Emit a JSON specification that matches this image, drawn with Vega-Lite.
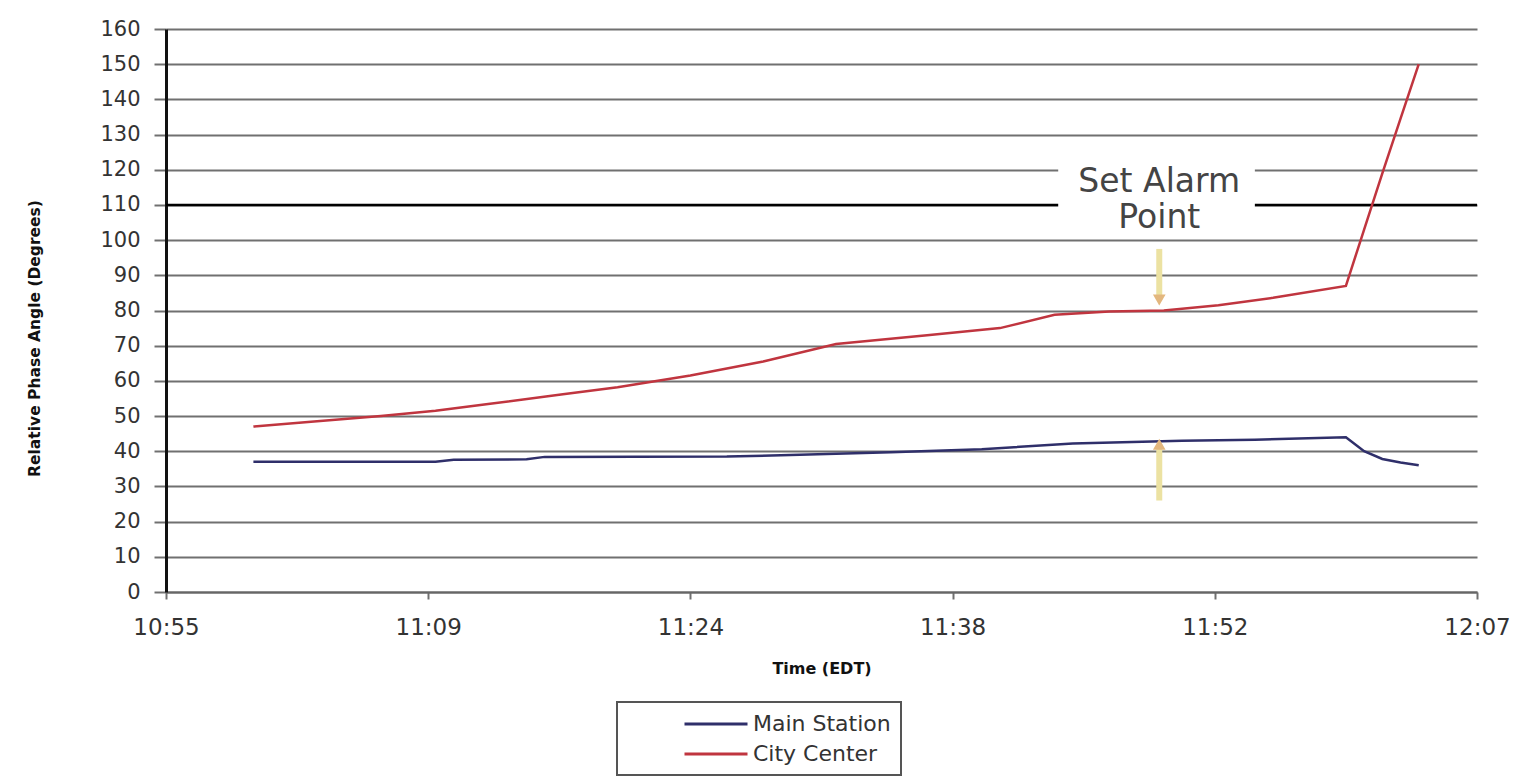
{
  "$schema": "https://vega.github.io/schema/vega-lite/v6.json",
  "width": 1311,
  "height": 563,
  "autosize": {"type": "none"},
  "padding": {"left": 166, "top": 29, "right": 56, "bottom": 184},
  "background": "white",
  "config": {
    "view": {"stroke": null},
    "font": "DejaVu Sans",
    "text": {"lineBreak": "\n"},
    "axis": {
      "labelFont": "DejaVu Sans",
      "labelColor": "#333333",
      "titleFont": "DejaVu Sans",
      "titleFontWeight": "bold",
      "titleColor": "#111111"
    },
    "axisY": {
      "grid": true,
      "gridColor": "#707070",
      "gridWidth": 2,
      "domainColor": "#111111",
      "domainWidth": 3,
      "tickColor": "#707070",
      "tickSize": 12,
      "tickWidth": 2,
      "tickCount": 20,
      "labelFontSize": 21,
      "labelPadding": 14,
      "labelOverlap": false,
      "titleFontSize": 15.5,
      "titleX": -124,
      "titleY": 309
    },
    "axisX": {
      "grid": false,
      "domainColor": "#666666",
      "domainWidth": 2,
      "tickColor": "#707070",
      "tickSize": 7,
      "tickWidth": 2,
      "labelFontSize": 23,
      "labelPadding": 17,
      "labelFlush": false,
      "labelOverlap": false,
      "titleFontSize": 16,
      "titlePadding": 21
    },
    "legend": {
      "orient": "none",
      "legendX": 451,
      "legendY": 673,
      "symbolType": "M-3,0H3",
      "symbolSize": 441,
      "symbolStrokeWidth": 3,
      "labelFontSize": 22,
      "labelColor": "#333333",
      "strokeColor": "#555555",
      "strokeWidth": 2,
      "fillColor": "white",
      "padding": 10,
      "rowPadding": 7,
      "symbolOffset": 77,
      "labelOffset": 25
    }
  },
  "layer": [
    {
      "description": "alarm threshold line at 110 degrees",
      "data": {"values": [{"alarm": 110}]},
      "mark": {"type": "rule", "color": "#000000", "strokeWidth": 2.5},
      "encoding": {
        "y": {
          "field": "alarm", "type": "quantitative", "title": "Relative Phase Angle (Degrees)",
          "scale": {"domain": [0, 160], "nice": false},
          "axis": {"values": [0, 10, 20, 30, 40, 50, 60, 70, 80, 90, 100, 110, 120, 130, 140, 150, 160]}
        }
      }
    },
    {
      "description": "white box behind the alarm note",
      "data": {
        "values": [{"start": "11:44:12", "end": "11:55:00", "low": 101.5, "high": 123}],
        "format": {"parse": {"start": "date:'%H:%M:%S'", "end": "date:'%H:%M:%S'"}}
      },
      "mark": {"type": "rect", "fill": "white"},
      "encoding": {
        "x": {"field": "start", "type": "temporal", "title": "Time (EDT)",
              "scale": {"domain": [{"year": 1900, "month": 1, "date": 1, "hours": 10, "minutes": 55, "seconds": 12}, {"year": 1900, "month": 1, "date": 1, "hours": 12, "minutes": 7, "seconds": 12}]}},
        "x2": {"field": "end"},
        "y": {"field": "low", "type": "quantitative", "title": "Relative Phase Angle (Degrees)", "scale": {"domain": [0, 160], "nice": false}},
        "y2": {"field": "high"}
      }
    },
    {
      "description": "alarm note text",
      "data": {
        "values": [{"time": "11:49:45", "level": 116.5, "note": "Set Alarm\nPoint"}],
        "format": {"parse": {"time": "date:'%H:%M:%S'"}}
      },
      "mark": {"type": "text", "fontSize": 33, "color": "#444444", "lineHeight": 36, "align": "center", "baseline": "middle"},
      "encoding": {
        "x": {"field": "time", "type": "temporal", "title": "Time (EDT)",
              "scale": {"domain": [{"year": 1900, "month": 1, "date": 1, "hours": 10, "minutes": 55, "seconds": 12}, {"year": 1900, "month": 1, "date": 1, "hours": 12, "minutes": 7, "seconds": 12}]}},
        "y": {"field": "level", "type": "quantitative", "title": "Relative Phase Angle (Degrees)", "scale": {"domain": [0, 160], "nice": false}},
        "text": {"field": "note"}
      }
    },
    {
      "description": "phase angle series",
      "data": {
        "values": [
          {"series": "Main Station", "time": "11:00", "angle": 37},
          {"series": "Main Station", "time": "11:10", "angle": 37},
          {"series": "Main Station", "time": "11:11", "angle": 37.6},
          {"series": "Main Station", "time": "11:15", "angle": 37.7},
          {"series": "Main Station", "time": "11:16", "angle": 38.4},
          {"series": "Main Station", "time": "11:26", "angle": 38.5},
          {"series": "Main Station", "time": "11:30", "angle": 39},
          {"series": "Main Station", "time": "11:35", "angle": 39.7},
          {"series": "Main Station", "time": "11:40", "angle": 40.6},
          {"series": "Main Station", "time": "11:45", "angle": 42.2},
          {"series": "Main Station", "time": "11:51", "angle": 43},
          {"series": "Main Station", "time": "11:55", "angle": 43.3},
          {"series": "Main Station", "time": "12:00", "angle": 44},
          {"series": "Main Station", "time": "12:01", "angle": 40},
          {"series": "Main Station", "time": "12:02", "angle": 37.8},
          {"series": "Main Station", "time": "12:03", "angle": 36.8},
          {"series": "Main Station", "time": "12:04", "angle": 36},
          {"series": "City Center", "time": "11:00", "angle": 47},
          {"series": "City Center", "time": "11:03", "angle": 48.3},
          {"series": "City Center", "time": "11:07", "angle": 50},
          {"series": "City Center", "time": "11:10", "angle": 51.5},
          {"series": "City Center", "time": "11:13", "angle": 53.5},
          {"series": "City Center", "time": "11:17", "angle": 56.2},
          {"series": "City Center", "time": "11:20", "angle": 58.2},
          {"series": "City Center", "time": "11:24", "angle": 61.5},
          {"series": "City Center", "time": "11:28", "angle": 65.5},
          {"series": "City Center", "time": "11:32", "angle": 70.5},
          {"series": "City Center", "time": "11:37", "angle": 73},
          {"series": "City Center", "time": "11:41", "angle": 75},
          {"series": "City Center", "time": "11:44", "angle": 78.8},
          {"series": "City Center", "time": "11:47", "angle": 79.7},
          {"series": "City Center", "time": "11:50", "angle": 80},
          {"series": "City Center", "time": "11:53", "angle": 81.5},
          {"series": "City Center", "time": "11:56", "angle": 83.6},
          {"series": "City Center", "time": "12:00", "angle": 87},
          {"series": "City Center", "time": "12:01", "angle": 103},
          {"series": "City Center", "time": "12:02", "angle": 119},
          {"series": "City Center", "time": "12:03", "angle": 134.5},
          {"series": "City Center", "time": "12:04", "angle": 150}
        ],
        "format": {"parse": {"time": "date:'%H:%M'"}}
      },
      "mark": {"type": "line", "strokeWidth": 2.5},
      "encoding": {
        "x": {
          "field": "time", "type": "temporal", "title": "Time (EDT)",
          "scale": {"domain": [{"year": 1900, "month": 1, "date": 1, "hours": 10, "minutes": 55, "seconds": 12}, {"year": 1900, "month": 1, "date": 1, "hours": 12, "minutes": 7, "seconds": 12}]},
          "axis": {
            "format": "%H:%M",
            "values": [
              {"year": 1900, "month": 1, "date": 1, "hours": 10, "minutes": 55, "seconds": 12},
              {"year": 1900, "month": 1, "date": 1, "hours": 11, "minutes": 9, "seconds": 36},
              {"year": 1900, "month": 1, "date": 1, "hours": 11, "minutes": 24, "seconds": 0},
              {"year": 1900, "month": 1, "date": 1, "hours": 11, "minutes": 38, "seconds": 24},
              {"year": 1900, "month": 1, "date": 1, "hours": 11, "minutes": 52, "seconds": 48},
              {"year": 1900, "month": 1, "date": 1, "hours": 12, "minutes": 7, "seconds": 12}
            ]
          }
        },
        "y": {
          "field": "angle", "type": "quantitative", "title": "Relative Phase Angle (Degrees)",
          "scale": {"domain": [0, 160], "nice": false},
          "axis": {"values": [0, 10, 20, 30, 40, 50, 60, 70, 80, 90, 100, 110, 120, 130, 140, 150, 160]}
        },
        "color": {
          "field": "series", "type": "nominal", "title": null,
          "scale": {"domain": ["Main Station", "City Center"], "range": ["#2f2f6a", "#c0353f"]}
        },
        "order": {"field": "time", "type": "temporal"}
      }
    },
    {
      "description": "arrow shafts pointing at the alarm point",
      "data": {
        "values": [
          {"time": "11:49:45", "from": 97.5, "to": 83},
          {"time": "11:49:45", "from": 26, "to": 42}
        ],
        "format": {"parse": {"time": "date:'%H:%M:%S'"}}
      },
      "mark": {"type": "rule", "color": "#ece2a2", "strokeWidth": 6},
      "encoding": {
        "x": {"field": "time", "type": "temporal", "title": "Time (EDT)",
              "scale": {"domain": [{"year": 1900, "month": 1, "date": 1, "hours": 10, "minutes": 55, "seconds": 12}, {"year": 1900, "month": 1, "date": 1, "hours": 12, "minutes": 7, "seconds": 12}]}},
        "y": {"field": "from", "type": "quantitative", "title": "Relative Phase Angle (Degrees)", "scale": {"domain": [0, 160], "nice": false}},
        "y2": {"field": "to"}
      }
    },
    {
      "description": "arrow heads",
      "data": {
        "values": [
          {"time": "11:49:45", "tip": 83, "direction": "down"},
          {"time": "11:49:45", "tip": 42, "direction": "up"}
        ],
        "format": {"parse": {"time": "date:'%H:%M:%S'"}}
      },
      "mark": {"type": "point", "filled": true, "size": 160, "color": "#e3b77e", "opacity": 1},
      "encoding": {
        "x": {"field": "time", "type": "temporal", "title": "Time (EDT)",
              "scale": {"domain": [{"year": 1900, "month": 1, "date": 1, "hours": 10, "minutes": 55, "seconds": 12}, {"year": 1900, "month": 1, "date": 1, "hours": 12, "minutes": 7, "seconds": 12}]}},
        "y": {"field": "tip", "type": "quantitative", "title": "Relative Phase Angle (Degrees)", "scale": {"domain": [0, 160], "nice": false}},
        "shape": {"field": "direction", "type": "nominal", "legend": null,
                  "scale": {"domain": ["down", "up"], "range": ["triangle-down", "triangle-up"]}}
      }
    }
  ]
}
